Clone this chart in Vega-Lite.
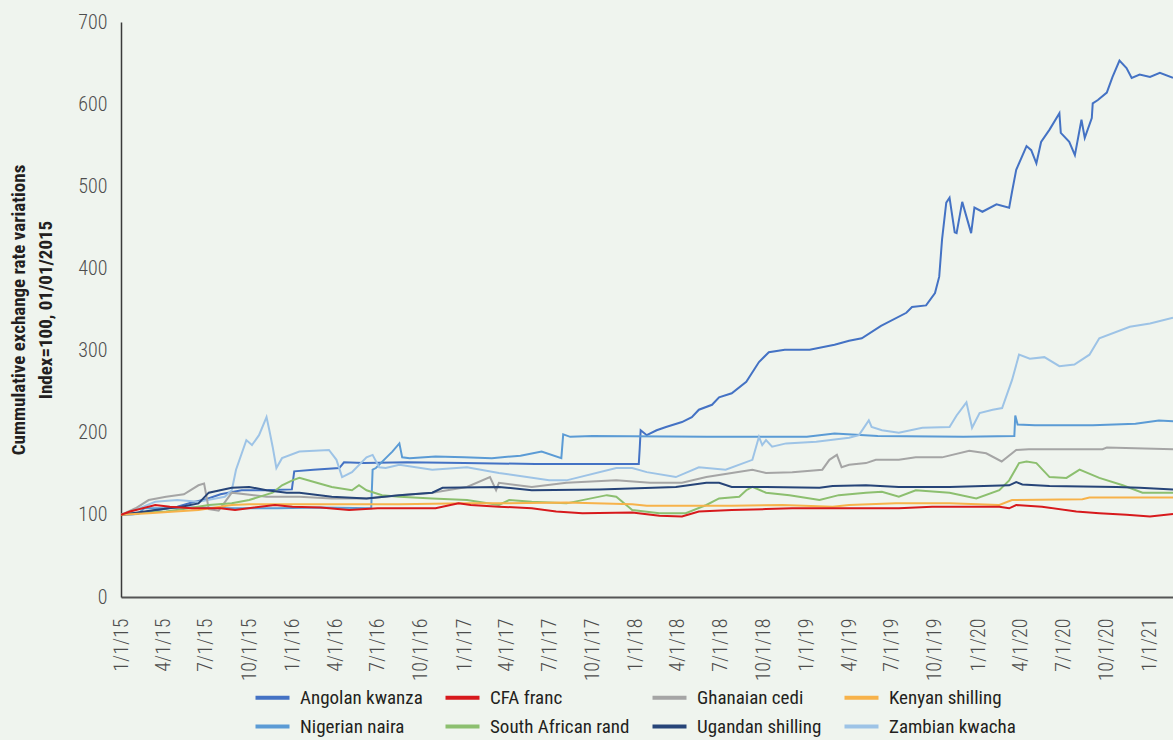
{
  "$schema": "https://vega.github.io/schema/vega-lite/v6.json",
  "width": 1052,
  "height": 575,
  "autosize": {"type": "none"},
  "padding": {"left": 121, "top": 22, "right": 0, "bottom": 143},
  "background": "#eff4ee",
  "config": {
    "view": {"stroke": null},
    "font": "Roboto Condensed, DejaVu Sans Condensed, sans-serif",
    "axis": {
      "grid": false,
      "ticks": false,
      "domainColor": "#3a3a3a",
      "domainWidth": 1.5,
      "labelFont": "Roboto Condensed, DejaVu Sans Condensed, sans-serif",
      "labelFontSize": 20,
      "labelFontWeight": 300,
      "labelColor": "#4d4d4d",
      "titleFont": "Roboto Condensed, DejaVu Sans Condensed, sans-serif"
    },
    "legend": {
      "labelFont": "Roboto Condensed, DejaVu Sans Condensed, sans-serif"
    }
  },
  "data": {
    "values": [
      {"d":"2015-01-01","s":"Angolan kwanza","v":100},
      {"d":"2015-02-01","s":"Angolan kwanza","v":101},
      {"d":"2015-03-01","s":"Angolan kwanza","v":104},
      {"d":"2015-04-01","s":"Angolan kwanza","v":107},
      {"d":"2015-05-01","s":"Angolan kwanza","v":110},
      {"d":"2015-06-01","s":"Angolan kwanza","v":115},
      {"d":"2015-07-01","s":"Angolan kwanza","v":119},
      {"d":"2015-08-01","s":"Angolan kwanza","v":125},
      {"d":"2015-09-15","s":"Angolan kwanza","v":130},
      {"d":"2015-11-01","s":"Angolan kwanza","v":130},
      {"d":"2015-12-31","s":"Angolan kwanza","v":131},
      {"d":"2016-01-05","s":"Angolan kwanza","v":153},
      {"d":"2016-02-15","s":"Angolan kwanza","v":155},
      {"d":"2016-04-10","s":"Angolan kwanza","v":157},
      {"d":"2016-04-20","s":"Angolan kwanza","v":164},
      {"d":"2016-06-01","s":"Angolan kwanza","v":163},
      {"d":"2016-09-01","s":"Angolan kwanza","v":164},
      {"d":"2017-01-01","s":"Angolan kwanza","v":163},
      {"d":"2017-06-01","s":"Angolan kwanza","v":162},
      {"d":"2017-10-01","s":"Angolan kwanza","v":162},
      {"d":"2018-01-08","s":"Angolan kwanza","v":162},
      {"d":"2018-01-10","s":"Angolan kwanza","v":181},
      {"d":"2018-01-12","s":"Angolan kwanza","v":203},
      {"d":"2018-01-25","s":"Angolan kwanza","v":197},
      {"d":"2018-02-15","s":"Angolan kwanza","v":203},
      {"d":"2018-03-07","s":"Angolan kwanza","v":207},
      {"d":"2018-04-10","s":"Angolan kwanza","v":213},
      {"d":"2018-05-01","s":"Angolan kwanza","v":219},
      {"d":"2018-05-16","s":"Angolan kwanza","v":228},
      {"d":"2018-06-13","s":"Angolan kwanza","v":234},
      {"d":"2018-06-28","s":"Angolan kwanza","v":243},
      {"d":"2018-07-25","s":"Angolan kwanza","v":248},
      {"d":"2018-08-25","s":"Angolan kwanza","v":262},
      {"d":"2018-09-21","s":"Angolan kwanza","v":286},
      {"d":"2018-10-12","s":"Angolan kwanza","v":298},
      {"d":"2018-11-15","s":"Angolan kwanza","v":301},
      {"d":"2019-01-07","s":"Angolan kwanza","v":301},
      {"d":"2019-03-01","s":"Angolan kwanza","v":307},
      {"d":"2019-04-01","s":"Angolan kwanza","v":312},
      {"d":"2019-04-28","s":"Angolan kwanza","v":315},
      {"d":"2019-06-08","s":"Angolan kwanza","v":330},
      {"d":"2019-08-01","s":"Angolan kwanza","v":346},
      {"d":"2019-08-13","s":"Angolan kwanza","v":353},
      {"d":"2019-09-12","s":"Angolan kwanza","v":355},
      {"d":"2019-10-01","s":"Angolan kwanza","v":370},
      {"d":"2019-10-10","s":"Angolan kwanza","v":390},
      {"d":"2019-10-16","s":"Angolan kwanza","v":435},
      {"d":"2019-10-25","s":"Angolan kwanza","v":480},
      {"d":"2019-11-01","s":"Angolan kwanza","v":486},
      {"d":"2019-11-12","s":"Angolan kwanza","v":444},
      {"d":"2019-11-16","s":"Angolan kwanza","v":443},
      {"d":"2019-11-28","s":"Angolan kwanza","v":481},
      {"d":"2019-12-17","s":"Angolan kwanza","v":443},
      {"d":"2019-12-24","s":"Angolan kwanza","v":474},
      {"d":"2020-01-10","s":"Angolan kwanza","v":469},
      {"d":"2020-02-09","s":"Angolan kwanza","v":478},
      {"d":"2020-03-07","s":"Angolan kwanza","v":474},
      {"d":"2020-03-13","s":"Angolan kwanza","v":493},
      {"d":"2020-03-22","s":"Angolan kwanza","v":520},
      {"d":"2020-04-13","s":"Angolan kwanza","v":549},
      {"d":"2020-04-23","s":"Angolan kwanza","v":544},
      {"d":"2020-05-04","s":"Angolan kwanza","v":528},
      {"d":"2020-05-14","s":"Angolan kwanza","v":554},
      {"d":"2020-06-01","s":"Angolan kwanza","v":569},
      {"d":"2020-06-22","s":"Angolan kwanza","v":589},
      {"d":"2020-06-25","s":"Angolan kwanza","v":565},
      {"d":"2020-07-13","s":"Angolan kwanza","v":554},
      {"d":"2020-07-25","s":"Angolan kwanza","v":538},
      {"d":"2020-08-08","s":"Angolan kwanza","v":581},
      {"d":"2020-08-15","s":"Angolan kwanza","v":559},
      {"d":"2020-08-30","s":"Angolan kwanza","v":583},
      {"d":"2020-09-01","s":"Angolan kwanza","v":601},
      {"d":"2020-09-12","s":"Angolan kwanza","v":605},
      {"d":"2020-10-01","s":"Angolan kwanza","v":614},
      {"d":"2020-10-13","s":"Angolan kwanza","v":633},
      {"d":"2020-10-28","s":"Angolan kwanza","v":653},
      {"d":"2020-11-12","s":"Angolan kwanza","v":644},
      {"d":"2020-11-23","s":"Angolan kwanza","v":632},
      {"d":"2020-12-10","s":"Angolan kwanza","v":636},
      {"d":"2021-01-01","s":"Angolan kwanza","v":633},
      {"d":"2021-01-22","s":"Angolan kwanza","v":638},
      {"d":"2021-02-19","s":"Angolan kwanza","v":632},

      {"d":"2015-01-01","s":"Nigerian naira","v":100},
      {"d":"2015-02-05","s":"Nigerian naira","v":101},
      {"d":"2015-02-20","s":"Nigerian naira","v":108},
      {"d":"2015-04-01","s":"Nigerian naira","v":108},
      {"d":"2015-06-01","s":"Nigerian naira","v":109},
      {"d":"2015-09-01","s":"Nigerian naira","v":108},
      {"d":"2015-12-01","s":"Nigerian naira","v":108},
      {"d":"2016-03-01","s":"Nigerian naira","v":109},
      {"d":"2016-06-17","s":"Nigerian naira","v":108},
      {"d":"2016-06-20","s":"Nigerian naira","v":155},
      {"d":"2016-06-27","s":"Nigerian naira","v":157},
      {"d":"2016-07-25","s":"Nigerian naira","v":173},
      {"d":"2016-08-01","s":"Nigerian naira","v":177},
      {"d":"2016-08-16","s":"Nigerian naira","v":187},
      {"d":"2016-08-22","s":"Nigerian naira","v":170},
      {"d":"2016-09-07","s":"Nigerian naira","v":169},
      {"d":"2016-11-01","s":"Nigerian naira","v":171},
      {"d":"2017-01-01","s":"Nigerian naira","v":170},
      {"d":"2017-03-01","s":"Nigerian naira","v":169},
      {"d":"2017-05-01","s":"Nigerian naira","v":172},
      {"d":"2017-06-15","s":"Nigerian naira","v":177},
      {"d":"2017-07-27","s":"Nigerian naira","v":169},
      {"d":"2017-07-31","s":"Nigerian naira","v":198},
      {"d":"2017-08-15","s":"Nigerian naira","v":195},
      {"d":"2017-10-01","s":"Nigerian naira","v":196},
      {"d":"2018-06-01","s":"Nigerian naira","v":195},
      {"d":"2019-01-01","s":"Nigerian naira","v":195},
      {"d":"2019-03-01","s":"Nigerian naira","v":199},
      {"d":"2019-06-01","s":"Nigerian naira","v":196},
      {"d":"2019-12-01","s":"Nigerian naira","v":195},
      {"d":"2020-03-18","s":"Nigerian naira","v":196},
      {"d":"2020-03-20","s":"Nigerian naira","v":221},
      {"d":"2020-03-25","s":"Nigerian naira","v":210},
      {"d":"2020-05-01","s":"Nigerian naira","v":209},
      {"d":"2020-09-01","s":"Nigerian naira","v":209},
      {"d":"2020-12-01","s":"Nigerian naira","v":211},
      {"d":"2021-01-20","s":"Nigerian naira","v":215},
      {"d":"2021-02-19","s":"Nigerian naira","v":214},

      {"d":"2015-01-01","s":"Zambian kwacha","v":100},
      {"d":"2015-02-01","s":"Zambian kwacha","v":106},
      {"d":"2015-03-15","s":"Zambian kwacha","v":116},
      {"d":"2015-05-01","s":"Zambian kwacha","v":118},
      {"d":"2015-06-15","s":"Zambian kwacha","v":116},
      {"d":"2015-08-10","s":"Zambian kwacha","v":122},
      {"d":"2015-08-25","s":"Zambian kwacha","v":130},
      {"d":"2015-09-03","s":"Zambian kwacha","v":155},
      {"d":"2015-09-25","s":"Zambian kwacha","v":191},
      {"d":"2015-10-07","s":"Zambian kwacha","v":185},
      {"d":"2015-10-22","s":"Zambian kwacha","v":197},
      {"d":"2015-11-07","s":"Zambian kwacha","v":219},
      {"d":"2015-11-13","s":"Zambian kwacha","v":203},
      {"d":"2015-11-20","s":"Zambian kwacha","v":183},
      {"d":"2015-11-28","s":"Zambian kwacha","v":157},
      {"d":"2015-12-10","s":"Zambian kwacha","v":169},
      {"d":"2016-01-16","s":"Zambian kwacha","v":177},
      {"d":"2016-03-19","s":"Zambian kwacha","v":179},
      {"d":"2016-04-04","s":"Zambian kwacha","v":167},
      {"d":"2016-04-16","s":"Zambian kwacha","v":146},
      {"d":"2016-05-07","s":"Zambian kwacha","v":152},
      {"d":"2016-06-07","s":"Zambian kwacha","v":170},
      {"d":"2016-06-20","s":"Zambian kwacha","v":173},
      {"d":"2016-07-04","s":"Zambian kwacha","v":158},
      {"d":"2016-07-18","s":"Zambian kwacha","v":157},
      {"d":"2016-08-16","s":"Zambian kwacha","v":161},
      {"d":"2016-10-25","s":"Zambian kwacha","v":155},
      {"d":"2017-01-07","s":"Zambian kwacha","v":158},
      {"d":"2017-03-16","s":"Zambian kwacha","v":151},
      {"d":"2017-07-01","s":"Zambian kwacha","v":142},
      {"d":"2017-08-07","s":"Zambian kwacha","v":142},
      {"d":"2017-11-21","s":"Zambian kwacha","v":157},
      {"d":"2017-12-25","s":"Zambian kwacha","v":157},
      {"d":"2018-01-25","s":"Zambian kwacha","v":152},
      {"d":"2018-03-28","s":"Zambian kwacha","v":146},
      {"d":"2018-05-16","s":"Zambian kwacha","v":158},
      {"d":"2018-07-12","s":"Zambian kwacha","v":155},
      {"d":"2018-09-07","s":"Zambian kwacha","v":167},
      {"d":"2018-09-21","s":"Zambian kwacha","v":195},
      {"d":"2018-09-28","s":"Zambian kwacha","v":185},
      {"d":"2018-10-06","s":"Zambian kwacha","v":191},
      {"d":"2018-10-19","s":"Zambian kwacha","v":183},
      {"d":"2018-11-18","s":"Zambian kwacha","v":187},
      {"d":"2019-01-21","s":"Zambian kwacha","v":189},
      {"d":"2019-04-01","s":"Zambian kwacha","v":194},
      {"d":"2019-04-22","s":"Zambian kwacha","v":197},
      {"d":"2019-05-13","s":"Zambian kwacha","v":215},
      {"d":"2019-05-19","s":"Zambian kwacha","v":207},
      {"d":"2019-06-10","s":"Zambian kwacha","v":203},
      {"d":"2019-07-16","s":"Zambian kwacha","v":200},
      {"d":"2019-09-04","s":"Zambian kwacha","v":206},
      {"d":"2019-11-01","s":"Zambian kwacha","v":207},
      {"d":"2019-11-16","s":"Zambian kwacha","v":221},
      {"d":"2019-12-07","s":"Zambian kwacha","v":237},
      {"d":"2019-12-19","s":"Zambian kwacha","v":206},
      {"d":"2020-01-04","s":"Zambian kwacha","v":224},
      {"d":"2020-02-01","s":"Zambian kwacha","v":228},
      {"d":"2020-02-21","s":"Zambian kwacha","v":230},
      {"d":"2020-03-13","s":"Zambian kwacha","v":264},
      {"d":"2020-03-28","s":"Zambian kwacha","v":295},
      {"d":"2020-04-20","s":"Zambian kwacha","v":290},
      {"d":"2020-05-21","s":"Zambian kwacha","v":292},
      {"d":"2020-06-22","s":"Zambian kwacha","v":281},
      {"d":"2020-07-24","s":"Zambian kwacha","v":283},
      {"d":"2020-08-25","s":"Zambian kwacha","v":295},
      {"d":"2020-09-15","s":"Zambian kwacha","v":315},
      {"d":"2020-11-19","s":"Zambian kwacha","v":329},
      {"d":"2021-01-01","s":"Zambian kwacha","v":333},
      {"d":"2021-02-19","s":"Zambian kwacha","v":340},

      {"d":"2015-01-01","s":"Ghanaian cedi","v":100},
      {"d":"2015-02-01","s":"Ghanaian cedi","v":108},
      {"d":"2015-03-01","s":"Ghanaian cedi","v":118},
      {"d":"2015-04-07","s":"Ghanaian cedi","v":122},
      {"d":"2015-05-15","s":"Ghanaian cedi","v":125},
      {"d":"2015-06-15","s":"Ghanaian cedi","v":136},
      {"d":"2015-06-27","s":"Ghanaian cedi","v":138},
      {"d":"2015-07-07","s":"Ghanaian cedi","v":107},
      {"d":"2015-07-28","s":"Ghanaian cedi","v":105},
      {"d":"2015-08-25","s":"Ghanaian cedi","v":127},
      {"d":"2015-11-07","s":"Ghanaian cedi","v":122},
      {"d":"2016-01-16","s":"Ghanaian cedi","v":122},
      {"d":"2016-03-25","s":"Ghanaian cedi","v":120},
      {"d":"2016-06-07","s":"Ghanaian cedi","v":120},
      {"d":"2016-08-16","s":"Ghanaian cedi","v":124},
      {"d":"2016-10-25","s":"Ghanaian cedi","v":127},
      {"d":"2017-01-07","s":"Ghanaian cedi","v":134},
      {"d":"2017-02-25","s":"Ghanaian cedi","v":146},
      {"d":"2017-03-10","s":"Ghanaian cedi","v":130},
      {"d":"2017-03-16","s":"Ghanaian cedi","v":139},
      {"d":"2017-05-25","s":"Ghanaian cedi","v":134},
      {"d":"2017-08-07","s":"Ghanaian cedi","v":139},
      {"d":"2017-11-21","s":"Ghanaian cedi","v":142},
      {"d":"2018-02-01","s":"Ghanaian cedi","v":139},
      {"d":"2018-04-10","s":"Ghanaian cedi","v":139},
      {"d":"2018-06-01","s":"Ghanaian cedi","v":146},
      {"d":"2018-07-25","s":"Ghanaian cedi","v":151},
      {"d":"2018-09-07","s":"Ghanaian cedi","v":155},
      {"d":"2018-10-06","s":"Ghanaian cedi","v":151},
      {"d":"2018-12-01","s":"Ghanaian cedi","v":152},
      {"d":"2019-02-03","s":"Ghanaian cedi","v":155},
      {"d":"2019-02-18","s":"Ghanaian cedi","v":167},
      {"d":"2019-03-06","s":"Ghanaian cedi","v":173},
      {"d":"2019-03-16","s":"Ghanaian cedi","v":158},
      {"d":"2019-04-01","s":"Ghanaian cedi","v":161},
      {"d":"2019-05-07","s":"Ghanaian cedi","v":163},
      {"d":"2019-05-28","s":"Ghanaian cedi","v":167},
      {"d":"2019-07-16","s":"Ghanaian cedi","v":167},
      {"d":"2019-08-21","s":"Ghanaian cedi","v":170},
      {"d":"2019-10-16","s":"Ghanaian cedi","v":170},
      {"d":"2019-12-13","s":"Ghanaian cedi","v":178},
      {"d":"2020-01-18","s":"Ghanaian cedi","v":175},
      {"d":"2020-02-20","s":"Ghanaian cedi","v":165},
      {"d":"2020-03-22","s":"Ghanaian cedi","v":179},
      {"d":"2020-04-18","s":"Ghanaian cedi","v":180},
      {"d":"2020-09-22","s":"Ghanaian cedi","v":180},
      {"d":"2020-10-01","s":"Ghanaian cedi","v":182},
      {"d":"2021-02-19","s":"Ghanaian cedi","v":180},

      {"d":"2015-01-01","s":"South African rand","v":100},
      {"d":"2015-01-25","s":"South African rand","v":102},
      {"d":"2015-04-07","s":"South African rand","v":104},
      {"d":"2015-05-25","s":"South African rand","v":108},
      {"d":"2015-07-07","s":"South African rand","v":112},
      {"d":"2015-08-25","s":"South African rand","v":114},
      {"d":"2015-10-01","s":"South African rand","v":118},
      {"d":"2015-11-20","s":"South African rand","v":127},
      {"d":"2015-12-10","s":"South African rand","v":136},
      {"d":"2016-01-01","s":"South African rand","v":142},
      {"d":"2016-01-16","s":"South African rand","v":145},
      {"d":"2016-02-22","s":"South African rand","v":139},
      {"d":"2016-03-25","s":"South African rand","v":134},
      {"d":"2016-05-07","s":"South African rand","v":130},
      {"d":"2016-05-22","s":"South African rand","v":136},
      {"d":"2016-06-07","s":"South African rand","v":130},
      {"d":"2016-07-10","s":"South African rand","v":124},
      {"d":"2016-08-16","s":"South African rand","v":122},
      {"d":"2016-10-25","s":"South African rand","v":120},
      {"d":"2017-01-07","s":"South African rand","v":118},
      {"d":"2017-03-16","s":"South African rand","v":112},
      {"d":"2017-04-07","s":"South African rand","v":118},
      {"d":"2017-05-25","s":"South African rand","v":116},
      {"d":"2017-08-07","s":"South African rand","v":114},
      {"d":"2017-11-01","s":"South African rand","v":124},
      {"d":"2017-11-21","s":"South African rand","v":122},
      {"d":"2017-12-25","s":"South African rand","v":106},
      {"d":"2018-02-21","s":"South African rand","v":102},
      {"d":"2018-04-18","s":"South African rand","v":102},
      {"d":"2018-06-01","s":"South African rand","v":112},
      {"d":"2018-06-28","s":"South African rand","v":120},
      {"d":"2018-08-10","s":"South African rand","v":122},
      {"d":"2018-08-25","s":"South African rand","v":130},
      {"d":"2018-09-07","s":"South African rand","v":134},
      {"d":"2018-10-06","s":"South African rand","v":127},
      {"d":"2018-11-25","s":"South African rand","v":124},
      {"d":"2019-01-28","s":"South African rand","v":118},
      {"d":"2019-03-10","s":"South African rand","v":124},
      {"d":"2019-05-07","s":"South African rand","v":127},
      {"d":"2019-06-10","s":"South African rand","v":128},
      {"d":"2019-07-16","s":"South African rand","v":122},
      {"d":"2019-08-21","s":"South African rand","v":130},
      {"d":"2019-11-01","s":"South African rand","v":127},
      {"d":"2019-12-28","s":"South African rand","v":120},
      {"d":"2020-02-15","s":"South African rand","v":130},
      {"d":"2020-03-07","s":"South African rand","v":142},
      {"d":"2020-03-28","s":"South African rand","v":163},
      {"d":"2020-04-13","s":"South African rand","v":165},
      {"d":"2020-05-04","s":"South African rand","v":163},
      {"d":"2020-06-01","s":"South African rand","v":146},
      {"d":"2020-07-07","s":"South African rand","v":145},
      {"d":"2020-08-04","s":"South African rand","v":155},
      {"d":"2020-09-15","s":"South African rand","v":145},
      {"d":"2020-11-04","s":"South African rand","v":136},
      {"d":"2020-12-16","s":"South African rand","v":127},
      {"d":"2021-02-19","s":"South African rand","v":127},

      {"d":"2015-01-01","s":"Ugandan shilling","v":100},
      {"d":"2015-01-25","s":"Ugandan shilling","v":102},
      {"d":"2015-03-15","s":"Ugandan shilling","v":106},
      {"d":"2015-05-10","s":"Ugandan shilling","v":110},
      {"d":"2015-06-15","s":"Ugandan shilling","v":114},
      {"d":"2015-07-07","s":"Ugandan shilling","v":127},
      {"d":"2015-08-25","s":"Ugandan shilling","v":133},
      {"d":"2015-10-01","s":"Ugandan shilling","v":134},
      {"d":"2015-11-07","s":"Ugandan shilling","v":130},
      {"d":"2015-12-20","s":"Ugandan shilling","v":127},
      {"d":"2016-01-16","s":"Ugandan shilling","v":127},
      {"d":"2016-03-25","s":"Ugandan shilling","v":122},
      {"d":"2016-06-07","s":"Ugandan shilling","v":120},
      {"d":"2016-08-16","s":"Ugandan shilling","v":124},
      {"d":"2016-10-25","s":"Ugandan shilling","v":127},
      {"d":"2016-11-16","s":"Ugandan shilling","v":133},
      {"d":"2017-03-16","s":"Ugandan shilling","v":134},
      {"d":"2017-05-25","s":"Ugandan shilling","v":130},
      {"d":"2017-10-16","s":"Ugandan shilling","v":131},
      {"d":"2018-03-28","s":"Ugandan shilling","v":134},
      {"d":"2018-06-01","s":"Ugandan shilling","v":139},
      {"d":"2018-06-28","s":"Ugandan shilling","v":139},
      {"d":"2018-07-25","s":"Ugandan shilling","v":134},
      {"d":"2018-10-06","s":"Ugandan shilling","v":134},
      {"d":"2019-01-28","s":"Ugandan shilling","v":133},
      {"d":"2019-02-25","s":"Ugandan shilling","v":135},
      {"d":"2019-05-07","s":"Ugandan shilling","v":136},
      {"d":"2019-07-16","s":"Ugandan shilling","v":134},
      {"d":"2019-11-01","s":"Ugandan shilling","v":134},
      {"d":"2020-03-07","s":"Ugandan shilling","v":136},
      {"d":"2020-03-22","s":"Ugandan shilling","v":140},
      {"d":"2020-04-04","s":"Ugandan shilling","v":137},
      {"d":"2020-06-01","s":"Ugandan shilling","v":135},
      {"d":"2020-10-22","s":"Ugandan shilling","v":134},
      {"d":"2020-12-10","s":"Ugandan shilling","v":133},
      {"d":"2021-02-19","s":"Ugandan shilling","v":131},

      {"d":"2015-01-01","s":"Kenyan shilling","v":100},
      {"d":"2015-03-01","s":"Kenyan shilling","v":102},
      {"d":"2015-06-15","s":"Kenyan shilling","v":106},
      {"d":"2015-08-25","s":"Kenyan shilling","v":112},
      {"d":"2015-10-01","s":"Kenyan shilling","v":113},
      {"d":"2016-01-16","s":"Kenyan shilling","v":113},
      {"d":"2016-08-16","s":"Kenyan shilling","v":113},
      {"d":"2017-01-07","s":"Kenyan shilling","v":114},
      {"d":"2017-03-16","s":"Kenyan shilling","v":114},
      {"d":"2017-08-07","s":"Kenyan shilling","v":115},
      {"d":"2017-12-25","s":"Kenyan shilling","v":113},
      {"d":"2018-01-25","s":"Kenyan shilling","v":111},
      {"d":"2018-07-25","s":"Kenyan shilling","v":111},
      {"d":"2018-11-10","s":"Kenyan shilling","v":112},
      {"d":"2019-02-25","s":"Kenyan shilling","v":110},
      {"d":"2019-04-01","s":"Kenyan shilling","v":112},
      {"d":"2019-07-10","s":"Kenyan shilling","v":114},
      {"d":"2019-11-01","s":"Kenyan shilling","v":114},
      {"d":"2020-02-15","s":"Kenyan shilling","v":112},
      {"d":"2020-03-13","s":"Kenyan shilling","v":118},
      {"d":"2020-08-10","s":"Kenyan shilling","v":119},
      {"d":"2020-08-25","s":"Kenyan shilling","v":121},
      {"d":"2021-02-19","s":"Kenyan shilling","v":121},

      {"d":"2015-01-01","s":"CFA franc","v":100},
      {"d":"2015-01-20","s":"CFA franc","v":104},
      {"d":"2015-03-15","s":"CFA franc","v":112},
      {"d":"2015-04-15","s":"CFA franc","v":110},
      {"d":"2015-06-01","s":"CFA franc","v":108},
      {"d":"2015-08-01","s":"CFA franc","v":108},
      {"d":"2015-09-01","s":"CFA franc","v":106},
      {"d":"2015-11-25","s":"CFA franc","v":112},
      {"d":"2016-01-01","s":"CFA franc","v":110},
      {"d":"2016-03-01","s":"CFA franc","v":109},
      {"d":"2016-05-01","s":"CFA franc","v":106},
      {"d":"2016-07-01","s":"CFA franc","v":108},
      {"d":"2016-09-01","s":"CFA franc","v":108},
      {"d":"2016-11-01","s":"CFA franc","v":108},
      {"d":"2016-12-20","s":"CFA franc","v":114},
      {"d":"2017-01-15","s":"CFA franc","v":112},
      {"d":"2017-03-16","s":"CFA franc","v":110},
      {"d":"2017-05-25","s":"CFA franc","v":108},
      {"d":"2017-07-16","s":"CFA franc","v":104},
      {"d":"2017-09-10","s":"CFA franc","v":102},
      {"d":"2017-12-25","s":"CFA franc","v":103},
      {"d":"2018-02-21","s":"CFA franc","v":99},
      {"d":"2018-04-10","s":"CFA franc","v":98},
      {"d":"2018-05-16","s":"CFA franc","v":104},
      {"d":"2018-07-25","s":"CFA franc","v":106},
      {"d":"2018-10-06","s":"CFA franc","v":107},
      {"d":"2018-12-01","s":"CFA franc","v":108},
      {"d":"2019-02-25","s":"CFA franc","v":108},
      {"d":"2019-07-16","s":"CFA franc","v":108},
      {"d":"2019-09-25","s":"CFA franc","v":110},
      {"d":"2020-02-15","s":"CFA franc","v":110},
      {"d":"2020-03-07","s":"CFA franc","v":108},
      {"d":"2020-03-22","s":"CFA franc","v":112},
      {"d":"2020-05-16","s":"CFA franc","v":110},
      {"d":"2020-07-28","s":"CFA franc","v":104},
      {"d":"2020-09-15","s":"CFA franc","v":102},
      {"d":"2020-11-12","s":"CFA franc","v":100},
      {"d":"2021-01-01","s":"CFA franc","v":98},
      {"d":"2021-02-19","s":"CFA franc","v":101}
    ]
  },
  "mark": {"type": "line", "strokeWidth": 2, "clip": true},
  "encoding": {
    "x": {
      "field": "d",
      "type": "temporal",
      "scale": {
        "type": "utc",
        "domain": [
          {"year": 2015, "month": 1, "date": 1, "utc": true},
          {"year": 2021, "month": 2, "date": 19, "utc": true}
        ]
      },
      "axis": {
        "title": null,
        "labelExpr": "utcFormat(datum.value, '%-m/%-d/%y')",
        "tickCount": {"interval": "month", "step": 3},
        "labelAngle": 270,
        "labelPadding": 21,
        "labelOverlap": false,
        "labelFlush": false,
        "domainColor": "#555555",
        "domainWidth": 2
      }
    },
    "y": {
      "field": "v",
      "type": "quantitative",
      "scale": {"domain": [0, 700], "nice": false},
      "axis": {
        "values": [0, 100, 200, 300, 400, 500, 600, 700],
        "labelPadding": 14,
        "title": ["Cummulative exchange rate variations", "Index=100, 01/01/2015"],
        "titleFontSize": 19,
        "titleFontWeight": "bold",
        "titleColor": "#231f20",
        "titleLineHeight": 27,
        "titlePadding": 22
      }
    },
    "color": {
      "field": "s",
      "type": "nominal",
      "scale": {
        "domain": ["Angolan kwanza", "CFA franc", "Ghanaian cedi", "Kenyan shilling", "Nigerian naira", "South African rand", "Ugandan shilling", "Zambian kwacha"],
        "range": ["#4472c4", "#d7191c", "#a5a5a5", "#f7b24a", "#5b9bd5", "#8cbf6f", "#264478", "#9dc3e6"]
      },
      "legend": {
        "title": null,
        "orient": "none",
        "legendX": 141,
        "legendY": 665,
        "direction": "horizontal",
        "columns": 4,
        "gridAlign": "each",
        "columnPadding": 14,
        "rowPadding": 8,
        "symbolType": "M-2,0H2",
        "symbolSize": 289,
        "symbolStrokeWidth": 4,
        "labelOffset": 17,
        "labelFontSize": 19,
        "labelColor": "#231f20",
        "labelLimit": 300
      }
    }
  }
}
